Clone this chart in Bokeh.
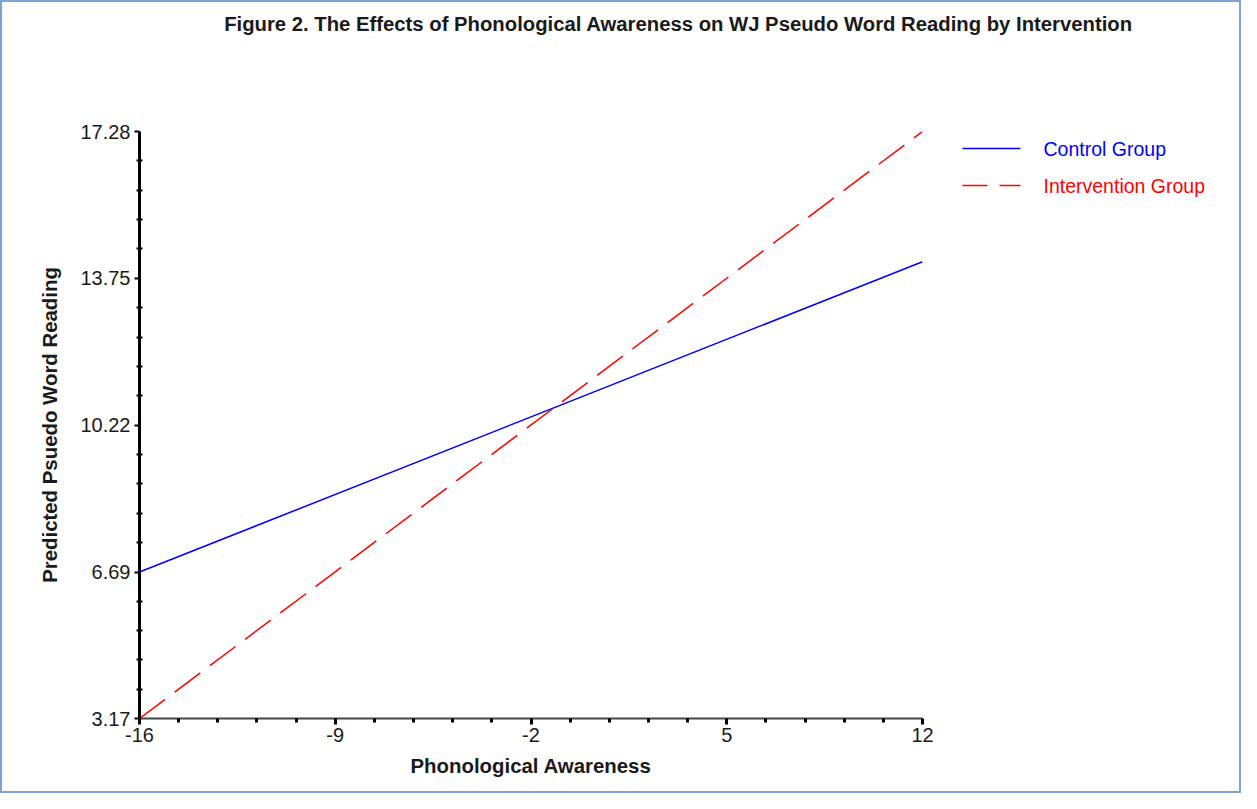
import numpy as np
from bokeh.plotting import figure
from bokeh.layouts import column, row
from bokeh.models import (Range1d, FixedTicker, NumeralTickFormatter, Label)
from bokeh.core.properties import value
from bokeh.embed import file_html
from bokeh.resources import INLINE

# ---- data ----
x_vals = [-16, 12]
control = [6.69, 14.15]
intervention = [3.17, 17.28]
y_ticks = [3.17, 6.69, 10.22, 13.75, 17.28]
x_ticks = [-16, -9, -2, 5, 12]
title_text = "Figure 2. The Effects of Phonological Awareness on WJ Pseudo Word Reading by Intervention"
x_label = "Phonological Awareness"
y_label = "Predicted Psuedo Word Reading"
series_names = ["Control Group", "Intervention Group"]
series_colors = ["#0000FF", "#FF0000"]
series_dash = ["solid", "32 12"]
legend_dash = ["solid", "25 12"]


def minors(ticks, n=5):
    out = []
    for a, b in zip(ticks[:-1], ticks[1:]):
        out.extend(list(np.linspace(a, b, n + 1)[1:-1]))
    return out


FONT = "Liberation Sans"
TOTAL_W, TOTAL_H = 1237, 789
TOP_H = 114
MAIN_W = 940
MAIN_H = TOTAL_H - TOP_H
LEG_W = TOTAL_W - MAIN_W
FRAME_TOP = 15
FRAME_H = 587
FRAME_BOTTOM = MAIN_H - FRAME_H - FRAME_TOP


def blank(w, h, xr, yr, top=0, bottom=0):
    f = figure(width=w, height=h, output_backend="svg", toolbar_location=None,
               min_border=0, min_border_left=0, min_border_right=0,
               min_border_top=top, min_border_bottom=bottom,
               x_range=xr, y_range=yr)
    f.axis.visible = False
    f.grid.visible = False
    f.outline_line_color = None
    return f


# ---- title strip ----
pt = blank(TOTAL_W, TOP_H, Range1d(0, 1), Range1d(0, 1))
pt.add_layout(Label(x=676, y=TOP_H - 21, x_units="screen", y_units="screen",
                    text=title_text, text_font=FONT, text_font_style="bold",
                    text_font_size="20.3px", text_color="#1a1a1a",
                    text_align="center", text_baseline="middle"))

# ---- main plot ----
p = figure(width=MAIN_W, height=MAIN_H, output_backend="svg", toolbar_location=None,
           x_range=Range1d(x_ticks[0], x_ticks[-1]),
           y_range=Range1d(y_ticks[0], y_ticks[-1]),
           min_border_left=137, min_border_right=20,
           min_border_top=FRAME_TOP, min_border_bottom=FRAME_BOTTOM)
p.outline_line_color = None
p.xgrid.visible = False
p.ygrid.visible = False

p.line(x_vals, control, line_color=series_colors[0], line_width=1.5)
p.line(x_vals, intervention, line_color=series_colors[1], line_width=1.5,
       line_dash=series_dash[1])

xa = p.xaxis[0]
xa.ticker = FixedTicker(ticks=x_ticks, minor_ticks=minors(x_ticks))
xa.formatter = NumeralTickFormatter(format="0")
xa.axis_line_width = 2
xa.axis_line_color = "#444444"
xa.major_tick_out = 6
xa.major_tick_in = 0
xa.major_tick_line_width = 3
xa.major_tick_line_color = "black"
xa.minor_tick_out = 4
xa.minor_tick_in = 0
xa.minor_tick_line_width = 3
xa.minor_tick_line_color = "black"
xa.major_label_text_font = FONT
xa.major_label_text_font_size = "20px"
xa.major_label_text_color = "#1a1a1a"
xa.major_label_standoff = 3
xa.axis_label = x_label
xa.axis_label_text_font = FONT
xa.axis_label_text_font_style = "bold"
xa.axis_label_text_font_size = "20.4px"
xa.axis_label_text_color = "#1a1a1a"
xa.axis_label_standoff = 10

ya = p.yaxis[0]
ya.ticker = FixedTicker(ticks=y_ticks, minor_ticks=minors(y_ticks))
ya.formatter = NumeralTickFormatter(format="0.00")
ya.axis_line_width = 3
ya.axis_line_color = "black"
ya.major_tick_out = 5
ya.major_tick_in = 0
ya.major_tick_line_width = 2
ya.major_tick_line_color = "black"
ya.minor_tick_out = 3
ya.minor_tick_in = 3
ya.minor_tick_line_width = 2
ya.minor_tick_line_color = "black"
ya.major_label_text_font = FONT
ya.major_label_text_font_size = "20px"
ya.major_label_text_color = "#1a1a1a"
ya.major_label_standoff = 4
ya.axis_label = y_label
ya.axis_label_text_font = FONT
ya.axis_label_text_font_style = "bold"
ya.axis_label_text_font_size = "20.4px"
ya.axis_label_text_color = "#1a1a1a"
ya.axis_label_standoff = 16

# ---- legend strip (pixel-like coordinates, y downwards from frame top) ----
pl = blank(LEG_W, MAIN_H, Range1d(0, LEG_W), Range1d(FRAME_H, 0),
           top=FRAME_TOP, bottom=FRAME_BOTTOM)
leg_rows = [17, 54]
for name, col, dash, ry in zip(series_names, series_colors, legend_dash, leg_rows):
    pl.line([20, 78], [ry, ry], line_color=col, line_width=1.5, line_dash=dash)
    pl.text(x=[101], y=[ry], text=[name], text_font=value(FONT),
            text_font_size="19.5px", text_color=col,
            text_align="left", text_baseline="middle")

layout = column(pt, row(p, pl), styles={"border": "2px solid #7EA3D6"})

open("out.html", "w").write(file_html(layout, INLINE))
